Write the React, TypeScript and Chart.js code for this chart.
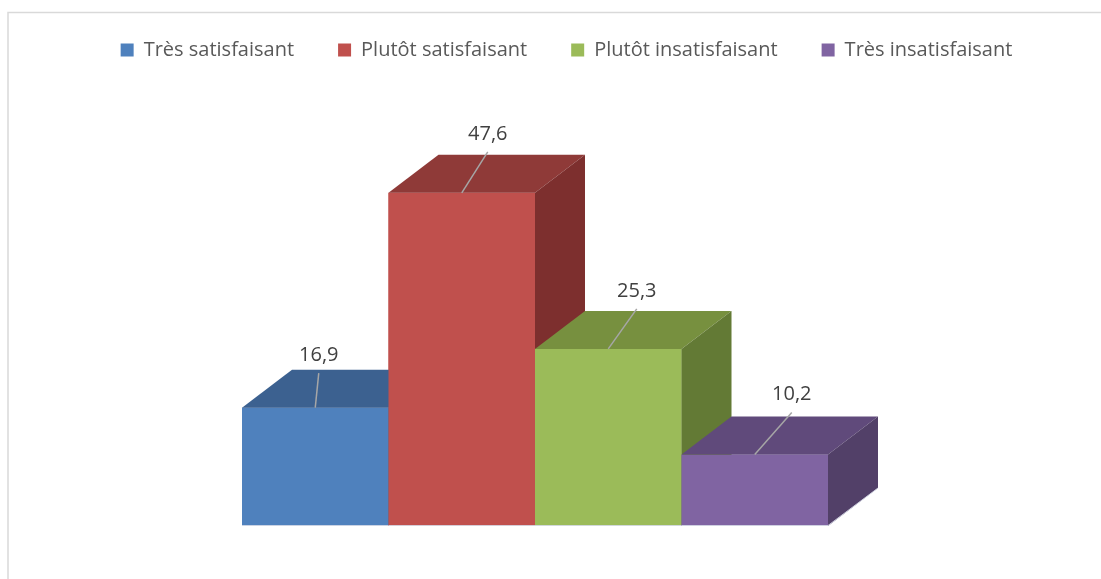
import React, { useEffect, useRef } from 'react';
import { Chart, registerables } from 'chart.js';

Chart.register(...registerables);

// ---- Data ----
const categories = [''];
const seriesNames = ['Très satisfaisant', 'Plutôt satisfaisant', 'Plutôt insatisfaisant', 'Très insatisfaisant'];
const seriesValues = [16.9, 47.6, 25.3, 10.2];

// ---- Styles ----
const frontColors = ['#4F81BD', '#C0504D', '#9BBB59', '#8064A2'];
const topColors = ['#3C6190', '#8F3A38', '#77903F', '#604A7B'];
const sideColors = ['#345480', '#7D2F2E', '#637A35', '#524068'];
const DEPTH_X = 50;
const DEPTH_Y = 38;
const labelOffsets = [
  [3.5, -52.5],
  [26, -59],
  [28.5, -58],
  [37, -60],
];

const fmt = (v: number) => v.toFixed(1).replace('.', ',');

const framePlugin = {
  id: 'frame',
  beforeDraw(chart: any) {
    const ctx = chart.ctx;
    ctx.save();
    ctx.fillStyle = '#FFFFFF';
    ctx.fillRect(0, 0, chart.width, chart.height);
    ctx.strokeStyle = '#D9D9D9';
    ctx.lineWidth = 1.5;
    ctx.beginPath();
    ctx.moveTo(8, chart.height + 5);
    ctx.lineTo(8, 12.5);
    ctx.lineTo(chart.width + 5, 12.5);
    ctx.stroke();
    ctx.restore();
  },
};

const legendHeightPlugin = {
  id: 'legendHeight',
  beforeLayout(chart: any) {
    const lg = chart.legend;
    if (lg && !lg.__patched) {
      const orig = lg.fit.bind(lg);
      lg.fit = function () {
        orig();
        lg.height = 110;
      };
      lg.__patched = true;
    }
  },
};

const bars3dPlugin = {
  id: 'bars3d',
  afterDatasetsDraw(chart: any) {
    const ctx = chart.ctx;
    ctx.save();
    const geo: any[] = [];
    chart.data.datasets.forEach((_ds: any, i: number) => {
      const meta = chart.getDatasetMeta(i);
      const el = meta.data[0];
      if (!el) return;
      const { x, y, base, width } = el.getProps(['x', 'y', 'base', 'width'], true);
      const l = x - width / 2;
      const r = x + width / 2;
      geo.push({ x, y, base, l, r, i });
      // front
      ctx.fillStyle = frontColors[i];
      ctx.fillRect(l, y, r - l, base - y);
      // top
      ctx.fillStyle = topColors[i];
      ctx.beginPath();
      ctx.moveTo(l, y);
      ctx.lineTo(l + DEPTH_X, y - DEPTH_Y);
      ctx.lineTo(r + DEPTH_X, y - DEPTH_Y);
      ctx.lineTo(r, y);
      ctx.closePath();
      ctx.fill();
      // side
      ctx.fillStyle = sideColors[i];
      ctx.beginPath();
      ctx.moveTo(r, y);
      ctx.lineTo(r + DEPTH_X, y - DEPTH_Y);
      ctx.lineTo(r + DEPTH_X, base - DEPTH_Y);
      ctx.lineTo(r, base);
      ctx.closePath();
      ctx.fill();
      // light bottom edge
      ctx.strokeStyle = 'rgba(215,220,232,0.9)';
      ctx.lineWidth = 1;
      ctx.beginPath();
      ctx.moveTo(l, base - 0.5);
      ctx.lineTo(r, base - 0.5);
      ctx.lineTo(r + DEPTH_X, base - DEPTH_Y);
      ctx.stroke();
    });
    // labels with leader lines
    ctx.font = '20px "Open Sans"';
    ctx.textAlign = 'center';
    ctx.textBaseline = 'middle';
    geo.forEach((g) => {
      const [dx, dy] = labelOffsets[g.i];
      const lx = g.x + dx;
      const ly = g.y + dy;
      ctx.strokeStyle = '#A6A6A6';
      ctx.lineWidth = 1.5;
      ctx.beginPath();
      ctx.moveTo(lx, ly + 18);
      ctx.lineTo(g.x, g.y);
      ctx.stroke();
      ctx.fillStyle = '#404040';
      ctx.fillText(fmt(seriesValues[g.i]), lx, ly);
    });
    ctx.restore();
  },
};

export default function App() {
  const canvasRef = useRef<HTMLCanvasElement | null>(null);

  useEffect(() => {
    if (!canvasRef.current) return;
    const chart = new Chart(canvasRef.current, {
      type: 'bar',
      data: {
        labels: categories,
        datasets: seriesNames.map((name, i) => ({
          label: name,
          data: [seriesValues[i]],
          backgroundColor: frontColors[i],
          borderWidth: 0,
          categoryPercentage: 586 / 1006,
          barPercentage: 1,
        })),
      },
      options: {
        animation: false,
        responsive: true,
        maintainAspectRatio: false,
        layout: { padding: { left: 32, right: 0, top: -4, bottom: 53 } },
        plugins: {
          legend: {
            position: 'top',
            labels: {
              boxWidth: 13,
              boxHeight: 13,
              padding: 44,
              color: '#595959',
              font: { family: '"Open Sans"', size: 20 },
            },
          },
          tooltip: { enabled: false },
        },
        scales: {
          x: { display: false, offset: true },
          y: {
            position: 'right',
            min: 0,
            max: 60,
            afterFit: (s: any) => {
              s.width = 63;
            },
            grid: { display: false },
            border: { display: false },
            ticks: { display: false },
          },
        },
      },
      plugins: [framePlugin, legendHeightPlugin, bars3dPlugin],
    } as any);
    return () => chart.destroy();
  }, []);

  return (
    <div style={{ position: 'fixed', left: 0, top: 0, width: 1101, height: 579, background: '#fff' }}>
      <canvas ref={canvasRef} />
    </div>
  );
}
